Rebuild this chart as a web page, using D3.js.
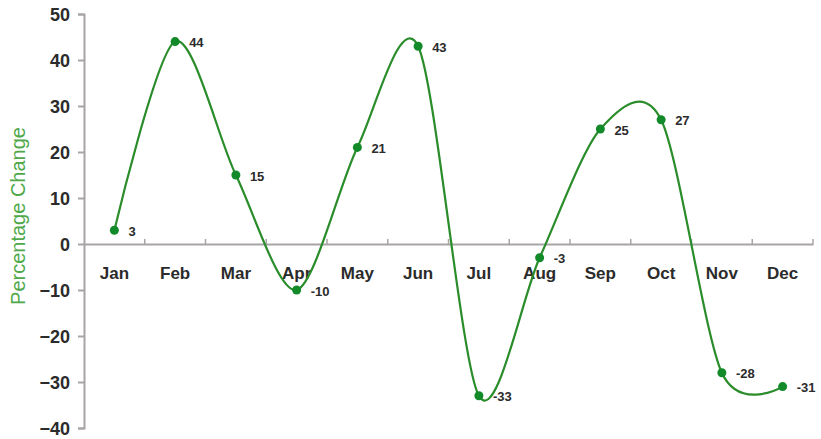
<!DOCTYPE html>
<html><head><meta charset="utf-8">
<script src="https://cdn.jsdelivr.net/npm/d3@7"></script>
<style>body{margin:0;background:#fff}svg{display:block}</style>
</head><body>
<svg id="c" width="821" height="439"></svg>
<script>
const months = ["Jan","Feb","Mar","Apr","May","Jun","Jul","Aug","Sep","Oct","Nov","Dec"];
const values = [3,44,15,-10,21,43,-33,-3,25,27,-28,-31];
const yTicks = [50,40,30,20,10,0,-10,-20,-30,-40];

const svg = d3.select("#c");
const x = d3.scaleBand().domain(months).range([84,813]);
const y = d3.scaleLinear().domain([-40,50]).range([428,14]);
const axisColor = "#a8a4a4";
const textColor = "#2b2b2b";
const green = "#2a8c2a";

// y axis
const ya = svg.append("g").attr("transform","translate(84,0)")
  .call(d3.axisLeft(y).tickValues(yTicks).tickSize(6).tickPadding(8).tickFormat(d3.format("d")));
ya.select(".domain").attr("stroke",axisColor).attr("stroke-width",2);
ya.selectAll(".tick line").attr("stroke",axisColor).attr("stroke-width",2);
ya.selectAll(".tick text").attr("fill",textColor).style("font-family","Liberation Sans, Arial, sans-serif")
  .style("font-size","18px").style("font-weight","bold").attr("dy","0.35em");

// x axis at zero
const xa = svg.append("g").attr("transform",`translate(0,${y(0)})`)
  .call(d3.axisBottom(x).tickSize(0).tickPadding(23));
xa.select(".domain").attr("stroke",axisColor).attr("stroke-width",2);
xa.selectAll(".tick text").attr("fill",textColor).style("font-family","Liberation Sans, Arial, sans-serif")
  .style("font-size","17px").style("font-weight","bold");
// boundary tick marks (inward)
const bounds = months.map(m => x(m) + x.bandwidth());
svg.append("g").selectAll("line").data(bounds).join("line")
  .attr("x1",d=>d).attr("x2",d=>d).attr("y1",y(0)).attr("y2",y(0)-5)
  .attr("stroke",axisColor).attr("stroke-width",1.5);

// y title
svg.append("text").attr("transform","translate(25,216) rotate(-90)")
  .attr("text-anchor","middle").attr("fill","#4fa84a")
  .style("font-family","Liberation Sans, Arial, sans-serif").style("font-size","20px")
  .text("Percentage Change");

const pts = months.map((m,i)=>({m, v: values[i]}));
const cx = d => x(d.m) + x.bandwidth()/2;
const line = d3.line().x(cx).y(d=>y(d.v)).curve(d3.curveCardinal.tension(0.12));
svg.append("path").datum(pts).attr("d",line).attr("fill","none")
  .attr("stroke",green).attr("stroke-width",2.2);

svg.append("g").selectAll("circle").data(pts).join("circle")
  .attr("cx",cx).attr("cy",d=>y(d.v)).attr("r",4.5).attr("fill","#138a2a");

svg.append("g").selectAll("text").data(pts).join("text")
  .attr("x",d=>cx(d)+14).attr("y",d=>y(d.v)+1).attr("dy","0.35em")
  .attr("fill",textColor).style("font-family","Liberation Sans, Arial, sans-serif")
  .style("font-size","13px").style("font-weight","bold")
  .text(d=>d.v);
</script>
</body></html>
